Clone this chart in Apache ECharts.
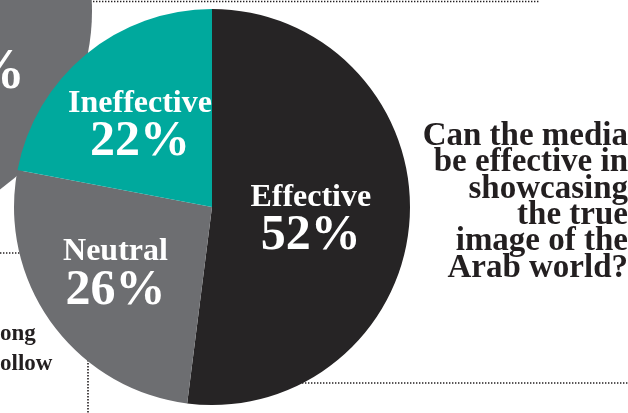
<!DOCTYPE html>
<html>
<head>
<meta charset="utf-8">
<script src="https://cdn.jsdelivr.net/npm/echarts@6/dist/echarts.min.js"></script>
<style>
  html, body { margin: 0; padding: 0; background: #fff; }
  #chart { width: 628px; height: 413px; }
</style>
</head>
<body>
<div id="chart"></div>
<script>
// Survey answers: can the media showcase the true image of the Arab world?
const categories = ['Effective', 'Neutral', 'Ineffective'];
const shares = [52, 26, 22];
const sliceColors = ['#262425', '#6d6e71', '#00a99d'];

// Neighbouring panel: a pie mostly outside the frame, only its edge shows
const sideShares = [100];
const sideLabel = '%';

const questionLines = [
  'Can the media',
  'be effective in',
  'showcasing',
  'the true',
  'image of the',
  'Arab world?'
];
const sideNoteLines = ['ong', 'ollow'];

const serif = '"Liberation Serif", "DejaVu Serif", serif';

// nudges for the label of each slice, in category order
const labelOffsets = {
  Effective: [-3, 7],
  Neutral: [-14, 8],
  Ineffective: [-7, -2]
};

const chart = echarts.init(document.getElementById('chart'), null, { renderer: 'canvas' });

const dotted = (x1, y1, x2, y2) => ({
  type: 'line',
  z: 0,
  shape: { x1, y1, x2, y2 },
  style: { stroke: '#231f20', lineWidth: 1.6, lineDash: [1.4, 1.6] }
});

chart.setOption({
  animation: false,
  backgroundColor: '#ffffff',
  series: [
    {
      type: 'pie',
      z: 1,
      silent: true,
      center: [-127, 11],
      radius: 219,
      label: { show: false },
      labelLine: { show: false },
      itemStyle: { color: '#6d6e71' },
      data: sideShares.map(v => ({ name: 'side', value: v }))
    },
    {
      type: 'pie',
      z: 2,
      center: [212, 207],
      radius: 198,
      startAngle: 90,
      clockwise: true,
      silent: true,
      labelLine: { show: false },
      label: {
        show: true,
        position: 'inside',
        formatter: p => '{n|' + p.name + '}\n{v|' + p.value + '%}',
        rich: {
          n: { fontFamily: serif, fontWeight: 'bold', fontSize: 32, color: '#fff', lineHeight: 32, align: 'center' },
          v: { fontFamily: serif, fontWeight: 'bold', fontSize: 50, color: '#fff', lineHeight: 46, align: 'center' }
        }
      },
      data: categories.map((c, i) => ({
        name: c,
        value: shares[i],
        itemStyle: { color: sliceColors[i] },
        label: { offset: labelOffsets[c] }
      }))
    }
  ],
  graphic: [
    dotted(93, 1.5, 540, 1.5),
    dotted(0, 253, 60, 253),
    dotted(88, 330, 88, 413),
    dotted(260, 383, 628, 383),
    {
      type: 'text',
      z: 10,
      x: 25,
      y: 74,
      style: {
        text: sideLabel,
        fill: '#fff',
        font: 'bold 56px ' + serif,
        align: 'right',
        verticalAlign: 'middle'
      }
    },
    {
      type: 'text',
      x: 628,
      y: 123,
      style: {
        text: questionLines.join('\n'),
        fill: '#231f20',
        font: 'bold 33px ' + serif,
        lineHeight: 26.4,
        align: 'right',
        verticalAlign: 'top'
      }
    },
    {
      type: 'text',
      x: 0,
      y: 319,
      style: {
        text: sideNoteLines.join('\n'),
        fill: '#231f20',
        font: 'bold 23px ' + serif,
        lineHeight: 30,
        align: 'left',
        verticalAlign: 'top'
      }
    }
  ]
});
</script>
</body>
</html>
